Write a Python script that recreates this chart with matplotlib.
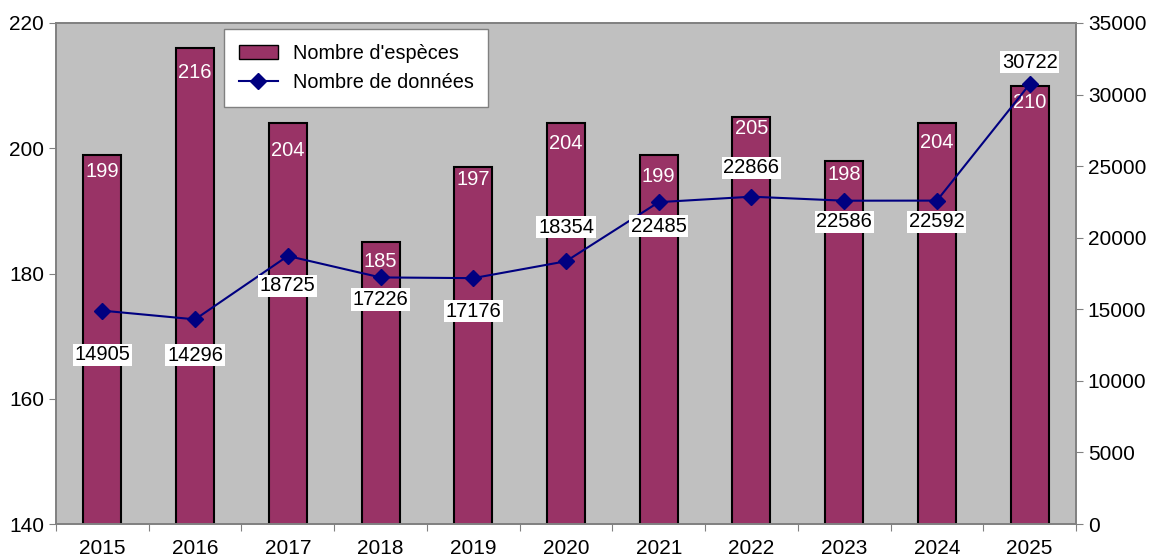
import numpy as np
import matplotlib.pyplot as plt
from matplotlib.lines import Line2D
from matplotlib.patches import Patch

plt.rcParams['font.family'] = ['Liberation Sans', 'DejaVu Sans']

years = ['2015', '2016', '2017', '2018', '2019', '2020', '2021', '2022', '2023', '2024', '2025']
especes = [199, 216, 204, 185, 197, 204, 199, 205, 198, 204, 210]
donnees = [14905, 14296, 18725, 17226, 17176, 18354, 22485, 22866, 22586, 22592, 30722]

# label placement (pixels, + = below)
bar_lbl_off = [17, 24, 27, 19, 12, 20, 22, 12, 14, 19, 17]
line_lbl_off = [44, 36, 30, 22, 33, -34, 24, -29, 21, 21, -22]

bar_col = '#993366'
line_col = '#000080'
grey = '#808080'

fig = plt.figure(figsize=(11.5, 5.57), dpi=100)
ax = fig.add_axes([56 / 1150, 33 / 557, 1020 / 1150, 501 / 557])
ax.set_facecolor('#c0c0c0')
x = np.arange(len(years))

ax.bar(x, especes, width=0.41, bottom=0, color=bar_col, edgecolor='black', linewidth=1.5, zorder=2)
ax.set_ylim(140, 220)
ax.set_yticks([140, 160, 180, 200, 220])
ax.set_xlim(-0.5, len(years) - 0.5)

for xi, v, off in zip(x, especes, bar_lbl_off):
    ax.annotate(str(v), (xi, v), xytext=(0, -off), textcoords='offset pixels',
                ha='center', va='center', color='white', fontsize=14.5, zorder=3)

ax2 = ax.twinx()
ax2.plot(x, donnees, color=line_col, lw=1.5, marker='D', markersize=8.5, zorder=4)
ax2.set_ylim(0, 35000)
ax2.set_yticks(np.arange(0, 35001, 5000))

for xi, v, off in zip(x, donnees, line_lbl_off):
    ax2.annotate(str(v), (xi, v), xytext=(0, -off), textcoords='offset pixels',
                 ha='center', va='center', color='black', fontsize=14.5, zorder=5,
                 bbox=dict(boxstyle='square,pad=0.08', fc='white', ec='none'))

# x ticks: marks at category boundaries, labels at centres
ax.set_xticks(np.arange(-0.5, len(years), 1.0))
ax.set_xticklabels([])
ax.set_xticks(x, minor=True)
ax.set_xticklabels(years, minor=True)
ax.tick_params(axis='x', which='major', direction='out', length=5, color=grey)
ax.tick_params(axis='x', which='minor', length=0, labelsize=15, pad=11)
ax.tick_params(axis='y', direction='out', length=5, color=grey, labelsize=15)
ax2.tick_params(axis='y', direction='out', length=5, color=grey, labelsize=15)

for a in (ax, ax2):
    for s in a.spines.values():
        s.set_color(grey)
        s.set_linewidth(1.2)

handles = [Patch(facecolor=bar_col, edgecolor='black', linewidth=1),
           Line2D([], [], color=line_col, lw=1.5, marker='D', markersize=8.5)]
leg = ax2.legend(handles, ["Nombre d'espèces", 'Nombre de données'],
                 loc='upper left', bbox_to_anchor=(168 / 1020, 1 - 6 / 501),
                 borderaxespad=0, fontsize=14.3, frameon=True, fancybox=False,
                 framealpha=1, edgecolor=grey, borderpad=0.75, labelspacing=0.5,
                 handlelength=1.96, handletextpad=0.75)
leg.get_frame().set_linewidth(1.0)

fig.savefig('out.png', dpi=100)
